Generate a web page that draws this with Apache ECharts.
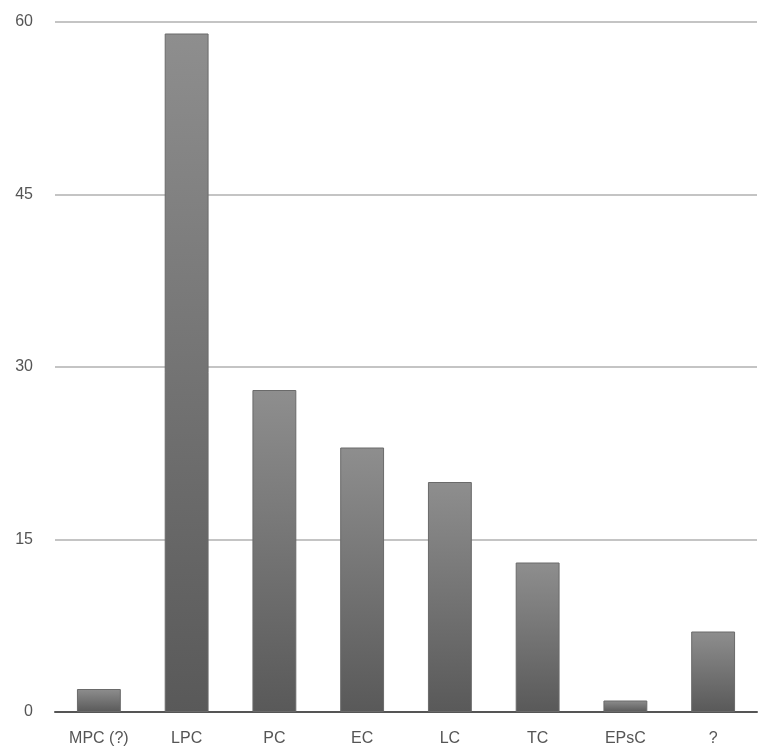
<!DOCTYPE html>
<html>
<head>
<meta charset="utf-8">
<script src="https://cdn.jsdelivr.net/npm/echarts@6/dist/echarts.min.js"></script>
<style>
  html, body { margin: 0; padding: 0; background: #fff; }
  #chart { width: 767px; height: 752px; }
</style>
</head>
<body>
<div id="chart"></div>
<script>
const categories = ['MPC (?)', 'LPC', 'PC', 'EC', 'LC', 'TC', 'EPsC', '?'];
const counts = [2, 59, 28, 23, 20, 13, 1, 7];
const yTicks = [0, 15, 30, 45, 60];

const chart = echarts.init(document.getElementById('chart'));
const option = {
  animation: false,
  grid: { left: 55, right: 10, top: 22, bottom: 40, containLabel: false },
  xAxis: {
    type: 'category',
    data: categories,
    axisLine: { lineStyle: { color: '#555', width: 2 } },
    axisTick: { show: false },
    axisLabel: { color: '#555', fontSize: 16, fontFamily: 'Liberation Sans', margin: 19 }
  },
  yAxis: {
    type: 'value',
    min: yTicks[0],
    max: yTicks[yTicks.length - 1],
    interval: 15,
    axisLine: { show: false },
    axisTick: { show: false },
    axisLabel: { color: '#555', fontSize: 16, fontFamily: 'Liberation Sans', margin: 22 },
    splitLine: { lineStyle: { color: '#c4c4c4', width: 2 } }
  },
  series: [{
    type: 'bar',
    data: counts,
    barWidth: '50%',
    itemStyle: {
      color: new echarts.graphic.LinearGradient(0, 0, 0, 1, [
        { offset: 0, color: '#8e8e8e' },
        { offset: 1, color: '#595959' }
      ]),
      borderColor: '#6a6a6a',
      borderWidth: 1
    }
  }]
};
chart.setOption(option);
</script>
</body>
</html>
